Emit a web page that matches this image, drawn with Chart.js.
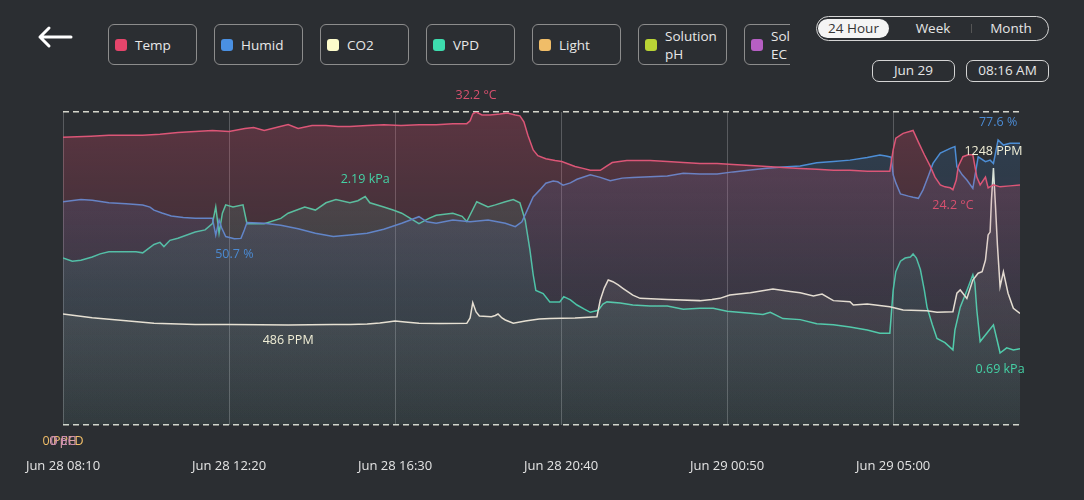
<!DOCTYPE html>
<html><head><meta charset="utf-8">
<script src="https://cdn.jsdelivr.net/npm/chart.js@4.4.1/dist/chart.umd.min.js"></script>
<style>
html,body{margin:0;padding:0;background:#2b2e32;width:1084px;height:500px;overflow:hidden;font-family:"Open Sans",sans-serif;}
#back{position:absolute;left:36px;top:25px;}
#legend{position:absolute;left:108px;top:24px;width:682px;height:42px;overflow:hidden;display:flex;gap:17px;}
.item{flex:0 0 auto;box-sizing:border-box;width:89px;height:41px;border:1.5px solid #8c8c8c;border-radius:6px;display:flex;align-items:center;padding-left:6px;color:#e8e8e8;font-size:13.5px;line-height:18px;}
.sw{width:12px;height:12px;border-radius:3px;margin-right:8px;flex:0 0 auto;}
.lt{max-width:58px;}
#range{position:absolute;left:816px;top:16px;width:233px;height:25px;box-sizing:border-box;border:1.5px solid #d4d4d4;border-radius:13px;color:#e6e6e6;font-size:13.5px;}
#range span{position:absolute;top:2px;height:19px;line-height:19px;text-align:center;}
#sel{left:1px;width:71px;background:#f4f4f4;color:#333;border-radius:10px;}
#sep{position:absolute;left:154px;top:7px;width:1px;height:9px;background:#555;}
.box{position:absolute;top:60px;width:83px;height:22px;box-sizing:border-box;border:1.5px solid #d4d4d4;border-radius:7px;color:#e6e6e6;font-size:13.5px;line-height:19px;text-align:center;}
#wrap{position:absolute;left:0;top:80px;width:1084px;height:420px;}
</style></head>
<body>
<svg id="back" width="38" height="24" viewBox="0 0 38 24"><path d="M35 12 H4 M13 3 L4 12 L13 21" fill="none" stroke="#ffffff" stroke-width="3" stroke-linecap="round" stroke-linejoin="round"/></svg>
<div id="legend"></div>
<div id="range"><span id="sel">24 Hour</span><span style="left:92px;width:48px">Week</span><div id="sep"></div><span style="left:166px;width:56px">Month</span></div>
<div class="box" style="left:872px">Jun 29</div>
<div class="box" style="left:966px">08:16 AM</div>
<div id="wrap"><canvas id="c" width="1084" height="420"></canvas></div>
<script>
// ---- data (minutes since Jun 28 08:10) ----
const seriesNames = ["Temp","Humid","CO2","VPD","Light","Solution pH","Solution EC"];
const seriesUnits = ["°C","%","PPM","kPa","PPFD","pH","EC"];
const seriesDecimals = [1,1,0,2,0,0,0];
const lineColors = ["#dc5677","#4d8ed6","#f2f0d8","#40d4a8","#f0bd68","#b9d435","#b65fc3"];
const swatchColors = ["#e5456b","#4a90e2","#fdfccb","#3ddcae","#f0bd68","#b9d435","#b65fc3"];
const labelColors = ["#d8506f","#4b8ad2","#f0eed6","#45d2a6","#f0bd68","#d9a0a8","#c98ab0"];
const fillRGB = ["232,74,110","74,144,226","245,245,220","64,217,176","240,189,104","185,212,53","182,95,195"];
const axisMax = [32.2,85.2,1520,3.0,1,1,1];

const tickTimes = [0,250,500,750,1000,1250];
const tickLabels = ["Jun 28 08:10","Jun 28 12:20","Jun 28 16:30","Jun 28 20:40","Jun 29 00:50","Jun 29 05:00"];

const tempTimes = [0,42,69,120,146,173,199,225,250,274,287,303,327,339,354,375,396,414,432,458,483,509,536,562,587,608,613,617,622,631,643,658,669,681,688,694,700,708,715,727,741,751,771,783,794,809,818,827,849,884,910,934,959,985,1009,1035,1060,1084,1110,1135,1160,1185,1211,1230,1245,1250,1254,1265,1280,1288,1297,1306,1313,1321,1328,1336,1340,1345,1348,1355,1363,1370,1376,1381,1389,1393,1401,1411,1426,1441];
const tempValues = [29.6,29.7,29.8,29.8,29.9,30.1,30.2,30.3,30.2,30.5,30.6,30.3,30.7,30.9,30.5,30.8,30.8,30.7,30.7,30.8,30.9,30.8,30.9,30.9,31.0,31.0,31.3,32.0,32.2,31.9,31.9,32.0,32.1,31.9,31.8,31.2,29.8,28.3,27.7,27.4,27.2,27.1,26.6,26.4,26.2,26.2,26.6,27.0,27.2,27.2,27.1,27.0,26.9,26.9,26.8,26.7,26.6,26.5,26.4,26.3,26.2,26.2,26.1,26.1,26.1,28.3,29.5,30.0,30.3,29.1,27.8,26.6,25.5,24.7,24.5,24.4,24.2,25.2,26.6,27.6,27.8,27.8,25.5,24.7,25.5,24.4,24.7,24.5,24.6,24.7];

const humidTimes = [0,27,44,69,95,120,131,137,149,163,181,199,214,225,230,235,239,245,258,268,273,277,303,328,354,380,407,432,458,483,510,523,536,548,562,587,613,640,666,681,691,699,708,718,727,738,745,753,764,774,794,809,824,842,858,884,910,934,959,985,1009,1035,1060,1084,1110,1135,1160,1185,1211,1230,1239,1247,1250,1254,1261,1273,1280,1288,1295,1303,1310,1321,1336,1343,1346,1354,1361,1370,1378,1389,1396,1401,1408,1416,1426,1441];
const humidValues = [60.8,61.4,61.2,60.5,60.2,59.9,59.3,58.5,57.7,56.9,56.5,56.3,56.3,56.3,51.7,55.8,53.6,51.3,50.7,50.8,53.1,55.1,54.9,54.4,53.4,52.2,51.3,51.7,52.2,53.3,54.9,55.8,56.7,55.3,54.9,55.8,55.3,55.8,54.9,54.0,55.3,58.5,62.1,64.0,65.8,66.4,66.2,65.3,65.9,66.9,68.1,67.4,66.5,67.2,67.4,67.6,67.8,68.5,68.3,68.3,68.9,69.4,69.9,70.2,70.5,71.4,71.7,72.1,72.8,73.5,73.2,72.9,68.1,65.9,62.9,62.3,62.0,61.7,64.0,67.8,71.2,74.0,75.3,75.8,70.3,68.1,66.7,64.4,73.0,71.7,72.1,71.2,77.6,76.2,76.7,76.7];

const co2Times = [0,44,95,137,199,250,297,339,372,407,432,458,477,489,500,515,536,568,608,613,617,622,627,645,651,655,661,666,678,696,717,733,751,771,804,809,815,821,828,836,843,858,869,910,959,977,989,1004,1035,1069,1095,1110,1130,1143,1160,1185,1190,1211,1245,1265,1301,1316,1340,1346,1351,1361,1370,1378,1384,1389,1393,1396,1398,1401,1404,1407,1411,1416,1423,1431,1441];
const co2Values = [539,521,506,494,488,488,487,486,487,488,488,490,495,500,505,500,494,493,494,520,594,549,529,526,532,539,520,510,494,505,515,517,518,520,526,607,665,704,696,680,664,631,615,610,604,610,615,631,642,660,648,642,626,636,604,599,583,588,574,558,555,547,550,640,656,615,704,737,744,801,923,937,1093,1248,1068,874,672,744,640,567,542];

const vpdTimes = [0,14,27,44,56,69,110,120,137,146,152,161,173,199,214,225,230,235,240,245,256,271,277,303,328,339,364,380,396,411,432,444,455,462,483,497,510,523,536,551,562,587,601,608,623,640,651,666,678,688,696,703,708,712,723,733,748,754,764,774,785,794,806,813,819,839,858,884,910,934,959,979,1000,1035,1054,1065,1084,1110,1135,1160,1185,1211,1230,1245,1250,1254,1261,1268,1276,1280,1285,1291,1297,1301,1309,1316,1328,1340,1343,1351,1361,1370,1373,1376,1381,1391,1401,1407,1411,1421,1431,1441];
const vpdValues = [1.60,1.57,1.58,1.61,1.64,1.66,1.66,1.65,1.73,1.75,1.71,1.77,1.79,1.85,1.87,1.93,2.09,1.84,2.03,2.11,2.09,2.11,1.93,1.93,1.98,2.03,2.09,2.06,2.13,2.16,2.13,2.15,2.19,2.13,2.09,2.06,2.03,1.98,1.93,1.98,2.01,2.03,2.00,1.95,2.14,2.09,2.11,2.14,2.16,2.13,1.96,1.68,1.44,1.29,1.26,1.18,1.18,1.23,1.20,1.15,1.11,1.08,1.10,1.16,1.18,1.17,1.15,1.14,1.14,1.11,1.12,1.12,1.09,1.07,1.06,1.08,1.02,1.01,0.97,0.96,0.94,0.91,0.88,0.88,1.29,1.47,1.57,1.60,1.61,1.64,1.60,1.49,1.29,1.13,0.96,0.83,0.79,0.72,0.91,1.13,1.29,1.44,1.36,1.10,0.80,0.88,0.96,0.80,0.69,0.74,0.72,0.73];

const flatTimes = [0,1441];
const lightValues = [0,0];
const phValues = [0,0];
const ecValues = [0,0];

const seriesTimes = [tempTimes,humidTimes,co2Times,vpdTimes,flatTimes,flatTimes,flatTimes];
const seriesValues = [tempValues,humidValues,co2Values,vpdValues,lightValues,phValues,ecValues];
// gradient stops: [top, middle, bottom] alpha
const fillAlpha = [[0.26,0.08,0.0],[0.17,0.09,0.02],[0.12,0.07,0.03],[0.17,0.09,0.03],[0,0,0],[0,0,0],[0,0,0]];

// ---- legend (HTML) ----
const legend = document.getElementById('legend');
seriesNames.forEach((n,i)=>{
  const d=document.createElement('div'); d.className='item';
  d.innerHTML='<div class="sw" style="background:'+swatchColors[i]+'"></div><span class="lt">'+n+'</span>';
  legend.appendChild(d);
});

function grad(ctx,i){
  const chart=ctx.chart, ca=chart.chartArea, rgb=fillRGB[i], a=fillAlpha[i];
  if(!ca) return 'rgba('+rgb+','+a[0]+')';
  const g=chart.ctx.createLinearGradient(0,ca.top,0,ca.bottom);
  g.addColorStop(0,'rgba('+rgb+','+a[0]+')');
  g.addColorStop(0.55,'rgba('+rgb+','+a[1]+')');
  g.addColorStop(1,'rgba('+rgb+','+a[2]+')');
  return g;
}
const axisIds=['yT','yH','yC','yV','yL','yP','yE'];
const datasets = seriesNames.map((n,i)=>({
  label:n,
  data: seriesTimes[i].map((t,j)=>({x:t,y:seriesValues[i][j]})),
  yAxisID: axisIds[i],
  borderColor: lineColors[i],
  borderWidth: i<4?1.5:0,
  pointRadius:0,
  tension:0,
  fill: i<4?'origin':false,
  backgroundColor: ctx=>grad(ctx,i)
}));

const valueLabels={
  id:'valueLabels',
  afterDatasetsDraw(chart){
    const ctx=chart.ctx;
    chart.data.datasets.forEach((ds,i)=>{
      const meta=chart.getDatasetMeta(i);
      let maxI=0,minI=0;
      ds.data.forEach((p,j)=>{ if(p.y>ds.data[maxI].y) maxI=j; if(p.y<ds.data[minI].y) minI=j; });
      const fmt=v=>v.toFixed(seriesDecimals[i])+' '+seriesUnits[i];
      ctx.save();
      ctx.font='12.5px "Open Sans"';
      ctx.fillStyle=labelColors[i];
      ctx.textAlign='center'; ctx.textBaseline='middle';
      const pmin=meta.data[minI];
      ctx.fillText(fmt(ds.data[minI].y),pmin.x,pmin.y+16);
      if(ds.data[maxI].y!==ds.data[minI].y){
        const pmax=meta.data[maxI];
        ctx.fillText(fmt(ds.data[maxI].y),pmax.x,pmax.y-17);
      }
      ctx.restore();
    });
  }
};

const hiddenAxis=(max)=>({type:'linear',display:false,min:0,max:max});
const scales={
  x:{type:'linear',min:0,max:1441,
     afterBuildTicks(ax){ax.ticks=tickTimes.map(v=>({value:v}));},
     afterFit(ax){ax.height=75;ax.paddingLeft=0;ax.paddingRight=0;},
     ticks:{color:'#e4e4e4',font:{family:'"Open Sans"',size:13},padding:33,maxRotation:0,autoSkip:false,
            callback:(v)=>tickLabels[tickTimes.indexOf(v)]},
     grid:{color:'rgba(255,255,255,0.22)',lineWidth:1,drawTicks:false},
     border:{display:false}},
  yT:{type:'linear',position:'left',min:0,max:axisMax[0],
     afterBuildTicks(ax){ax.ticks=[{value:0},{value:axisMax[0]}];},
     afterFit(ax){ax.width=0;},
     ticks:{display:false},
     grid:{color:'#d6d6cc',lineWidth:1.5,drawTicks:false},
     border:{display:false,dash:[6,4]}},
  yH:hiddenAxis(axisMax[1]), yC:hiddenAxis(axisMax[2]), yV:hiddenAxis(axisMax[3]),
  yL:hiddenAxis(axisMax[4]), yP:hiddenAxis(axisMax[5]), yE:hiddenAxis(axisMax[6])
};

new Chart(document.getElementById('c'),{
  type:'line',
  data:{datasets},
  options:{responsive:false,animation:false,devicePixelRatio:1,
    layout:{padding:{left:63,right:64,top:32,bottom:0}},
    plugins:{legend:{display:false},tooltip:{enabled:false}},
    scales},
  plugins:[valueLabels]
});
</script>
</body></html>
